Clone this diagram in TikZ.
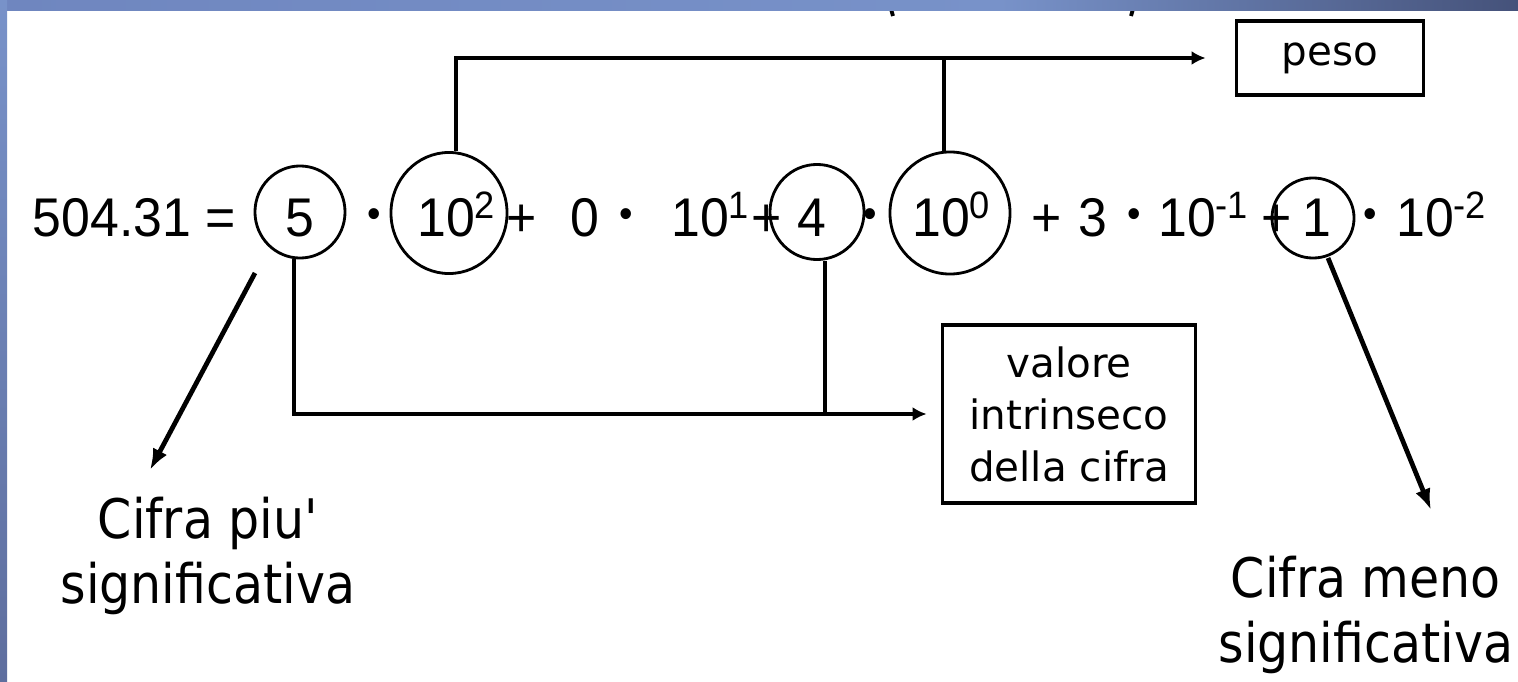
\documentclass[tikz,border=0pt]{standalone}
\usepackage{fontspec}
\setmainfont[FakeStretch=0.95]{Liberation Sans}
\newfontfamily\lblfont[FakeStretch=0.9]{DejaVu Sans}
\newfontfamily\boxfont{DejaVu Sans}
\usetikzlibrary{shapes.geometric,arrows.meta,calc}

\definecolor{barA}{HTML}{6F86BF}
\definecolor{barB}{HTML}{7892C9}
\definecolor{barC}{HTML}{45527A}
\definecolor{sideB}{HTML}{5E6E9E}

\tikzset{
  eq/.style={font=\fontsize{15.5}{18}\selectfont, inner sep=0pt, anchor=base},
  times/.style={font=\fontsize{11.5}{12}\selectfont, inner sep=0pt, anchor=center},
  ring/.style={draw, ellipse, line width=0.8pt, inner sep=0pt},
  lbl/.style={font=\lblfont\fontsize{15.5}{18.5}\selectfont, align=center, inner sep=0pt},
  tag/.style={draw, line width=1.05pt, font=\boxfont\fontsize{11.5}{14.8}\selectfont, align=center, inner sep=0pt},
  conn/.style={line width=1.05pt},
  arr/.style={conn, -{Latex[length=4pt,width=4pt]}},
  diag/.style={line width=1.35pt, -{Latex[length=6pt,width=4.5pt]}},
}

\begin{document}
\begin{tikzpicture}[x=0.01cm,y=-0.01cm]
\useasboundingbox (0,0) rectangle (1518,682);
\fill[white] (0,0) rectangle (1518,682);

% ends of bracket strokes peeking out below the title bar
\draw[line width=1.1pt] (891,9) -- (893,16);
\draw[line width=1.1pt] (1133,9) -- (1131,16);

% slide frame
\shade[left color=barA, right color=barB] (0,0) rectangle (1000,11);
\shade[left color=barB, right color=barC] (1000,0) rectangle (1518,11);
\shade[top color=barB, bottom color=sideB] (0,0) rectangle (7,682);

% rings around digits and weights
\node[ring, minimum width=0.9cm,  minimum height=0.92cm] (c5)   at (300,212) {};
\node[ring, minimum width=1.16cm, minimum height=1.21cm] (c102) at (449,213) {};
\node[ring, minimum width=0.94cm, minimum height=0.95cm] (c4)   at (817,212) {};
\node[ring, minimum width=1.2cm,  minimum height=1.22cm] (c100) at (950,213) {};
\node[ring, minimum width=0.82cm, minimum height=0.8cm]  (c1)   at (1313,218) {};

% the expansion
\node[eq, anchor=base west] (lhs) at (32,237) {504.31 =};
\node[eq] (t5)   at (300,237) {5};
\node[times] (d1) at (374,218) {•};
\node[eq] (t102) at (457,237) {10\textsuperscript{2}};
\node[eq] (p1)   at (522,237) {+};
\node[eq] (t0)   at (585,237) {0};
\node[times] (d2) at (626,218) {•};
\node[eq] (t101) at (711,237) {10\textsuperscript{1}};
\node[eq] (p2)   at (767,237) {+};
\node[eq] (t4)   at (812,237) {4};
\node[times] (d3) at (870,218) {•};
\node[eq] (t100) at (952,237) {10\textsuperscript{0}};
\node[eq] (p3)   at (1047,237) {+};
\node[eq] (t3)   at (1093,237) {3};
\node[times] (d4) at (1134,218) {•};
\node[eq] (tm1)  at (1204,237) {10\textsuperscript{-1}};
\node[eq] (p4)   at (1277,237) {+};
\node[eq] (t1)   at (1317,237) {1};
\node[times] (d5) at (1370,218) {•};
\node[eq] (tm2)  at (1442,237) {10\textsuperscript{-2}};

% boxes
\node[tag, minimum width=1.87cm, minimum height=0.74cm] (peso) at (1330,58) {peso};
\node[tag, minimum width=2.53cm, minimum height=1.78cm] (valore) at (1069,414)
  {valore\\intrinseco\\della cifra};

% side labels
\node[lbl] (most)  at (208,556)  {Cifra piu'\\significativa};
\node[lbl] (least) at (1366,615) {Cifra meno\\significativa};

% weight connectors
\draw[arr, shorten >=0.29cm] ([xshift=0.07cm]c102.north) |- (peso.west);
\draw[conn] ([xshift=-0.06cm]c100.north) -- ([xshift=-0.06cm]c100.north |- peso.west);

% digit-value connectors
\draw[arr, shorten >=0.14cm] ([xshift=-0.06cm]c5.south) |- (valore.west);
\draw[conn] ([xshift=0.08cm]c4.south) -- ([xshift=0.08cm]c4.south |- valore.west);

% most / least significant digit pointers
\coordinate (ms) at (255,273);
\coordinate (me) at (150,470);
\coordinate (ls) at (1328,258);
\coordinate (le) at (1431,510);
\draw[diag] (ms) -- (me);
\draw[diag] (ls) -- (le);
\end{tikzpicture}
\end{document}
